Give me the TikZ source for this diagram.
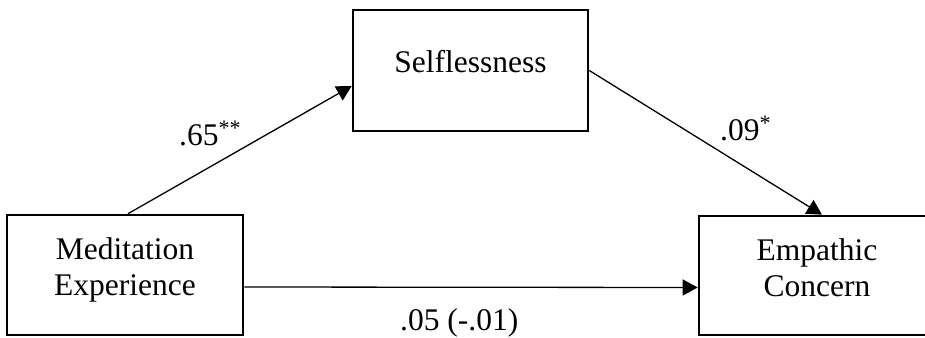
\documentclass[tikz,border=0pt]{standalone}
\usepackage{fontspec}
\setmainfont{Liberation Serif}
\usetikzlibrary{arrows.meta}
\begin{document}
\begin{tikzpicture}[x=1pt,y=-1pt,
  box/.style={draw, line width=2.6pt, fill=white, inner sep=0pt},
  txt/.style={inner sep=0pt, font=\fontsize{31.5}{36}\selectfont},
  link/.style={line width=1.3pt, -{Triangle[length=15pt,width=16pt]}}]
\useasboundingbox (0,0) rectangle (925,337);

% variable boxes
\node[box, minimum width=236pt, minimum height=120pt] (med) at (125,275) {};
\node[box, minimum width=235pt, minimum height=121pt] (self) at (470.5,70.5) {};
\node[box, minimum width=236pt, minimum height=119pt] (emp) at (817,275.5) {};

% box captions
\node[txt, anchor=north, align=center] (medtext) at (125,237.5) {Meditation\\Experience};
\node[txt, anchor=base] (selftext) at (470.5,72) {Selflessness};
\node[txt, anchor=north, align=center] (emptext) at (817,238) {Empathic\\Concern};

% paths
\draw[link] ([xshift=3pt]med.north) -- ([yshift=-15.5pt]self.west);
\draw[link] (self.east) -- ([xshift=5pt]emp.north);
\draw[link] ([yshift=-12pt]med.east) -- ([yshift=-12pt]emp.west);

% path coefficients
\node[txt, anchor=base west] (coefa) at (179,145) {.65\textsuperscript{**}};
\node[txt, anchor=base west] (coefb) at (720,140) {.09\textsuperscript{*}};
\node[txt, anchor=base west] (coefc) at (400,330) {.05 (-.01)};
\end{tikzpicture}
\end{document}
